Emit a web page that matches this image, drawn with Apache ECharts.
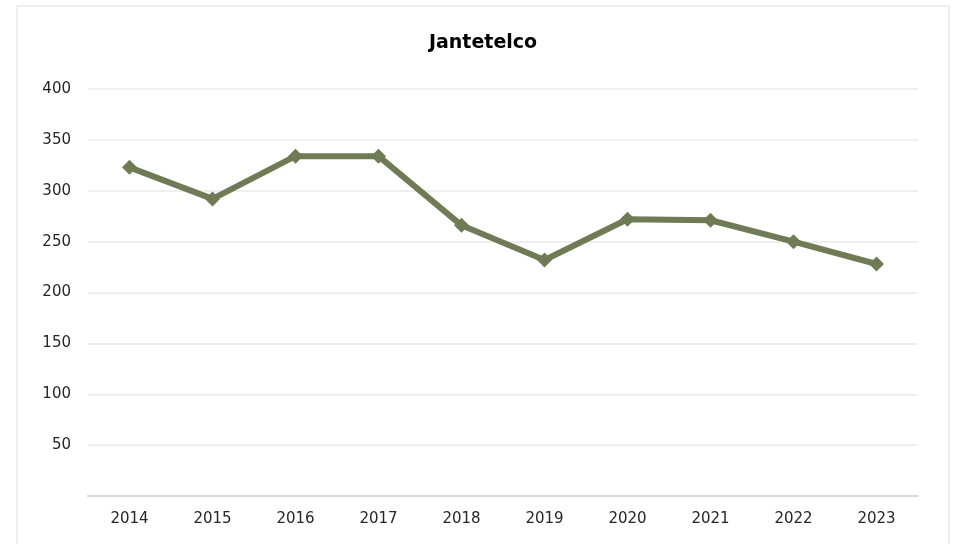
<!DOCTYPE html>
<html>
<head>
<meta charset="utf-8">
<script src="https://cdn.jsdelivr.net/npm/echarts@6/dist/echarts.min.js"></script>
<style>
  html, body { margin: 0; padding: 0; background: #fff; }
  #chart { position: absolute; left: 16px; top: 5px; width: 934px; height: 539px; }
  #frame { position: absolute; left: 16px; top: 5px; width: 934px; height: 560px;
           border: 2px solid #efefef; box-sizing: border-box; pointer-events: none; }
</style>
</head>
<body>
<div id="chart"></div>
<div id="frame"></div>
<script>
  const years = ['2014', '2015', '2016', '2017', '2018', '2019', '2020', '2021', '2022', '2023'];
  const values = [323, 292, 334, 334, 266, 232, 272, 271, 250, 228];

  const chart = echarts.init(document.getElementById('chart'));
  chart.setOption({
    animation: false,
    title: {
      text: 'Jantetelco',
      left: 'center',
      top: 24,
      textStyle: { fontFamily: 'DejaVu Sans', fontWeight: 'bold', fontSize: 19, color: '#000' }
    },
    grid: { left: 72, right: 32, top: 84, bottom: 48 },
    xAxis: {
      type: 'category',
      data: years,
      axisLine: { lineStyle: { color: '#d9d9d9', width: 2 } },
      axisTick: { show: false },
      axisLabel: { color: '#262626', fontFamily: 'DejaVu Sans', fontSize: 15, margin: 16 }
    },
    yAxis: {
      type: 'value',
      min: 0,
      max: 400,
      interval: 50,
      axisLine: { show: false },
      axisTick: { show: false },
      splitLine: { lineStyle: { color: '#efefef', width: 2 } },
      axisLabel: {
        color: '#262626', fontFamily: 'DejaVu Sans', fontSize: 15, margin: 17,
        formatter: v => v === 0 ? '' : v
      }
    },
    series: [{
      type: 'line',
      data: values,
      symbol: 'diamond',
      symbolSize: 15,
      lineStyle: { color: '#6e7b55', width: 6 },
      itemStyle: { color: '#6e7b55' }
    }]
  });
</script>
</body>
</html>
